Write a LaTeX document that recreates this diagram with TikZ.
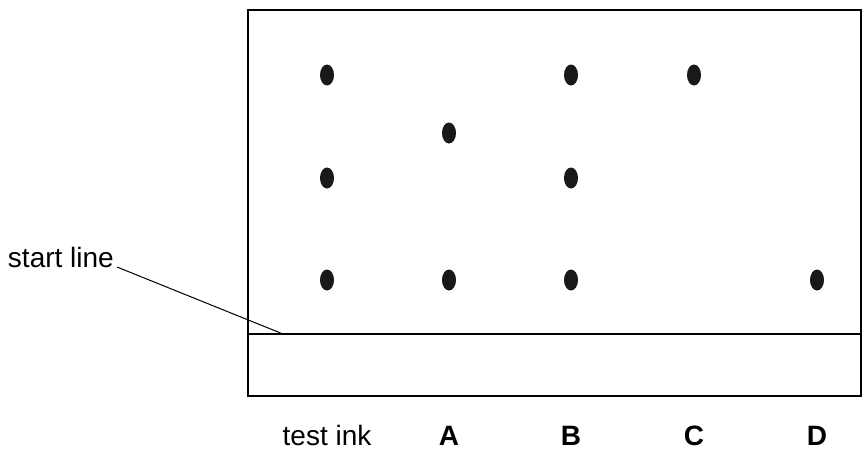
\documentclass[tikz,border=0pt]{standalone}
\usepackage{fontspec}
\setmainfont{Liberation Sans}
\usetikzlibrary{shapes.geometric}

\begin{document}
\begin{tikzpicture}[x=1pt,y=-1pt,
            paper/.style={draw, line width=2pt},
            spot/.style={ellipse, fill=black!90, inner sep=0pt, minimum width=14pt, minimum height=21pt},
            lane label/.style={font=\fontsize{28}{32}\selectfont, anchor=base, inner sep=0pt},
            every node/.style={align=center}
    ]
        \useasboundingbox (0,0) rectangle (864,450);

        % Paper and start line
        \draw[paper] (248,10) rectangle (861,396);
        \coordinate (sl_left) at (248,334);
        \coordinate (sl_right) at (861,334);
        \draw[paper] (sl_left) -- (sl_right);

        % Spots: test ink
        \node[spot] (ink_1) at (327,75) {};
        \node[spot] (ink_2) at (327,178) {};
        \node[spot] (ink_3) at (327,280) {};

        % Spots: A
        \node[spot] (a_1) at (449,133) {};
        \node[spot] (a_2) at (449,280) {};

        % Spots: B
        \node[spot] (b_1) at (571,75) {};
        \node[spot] (b_2) at (571,178) {};
        \node[spot] (b_3) at (571,280) {};

        % Spots: C and D
        \node[spot] (c_1) at (694,75) {};
        \node[spot] (d_1) at (817,280) {};

        % Labels
        \node[lane label] (lab_ink) at (327,445) {test ink};
        \node[lane label] (lab_a) at (449,445) {\bfseries A};
        \node[lane label] (lab_b) at (571,445) {\bfseries B};
        \node[lane label] (lab_c) at (694,445) {\bfseries C};
        \node[lane label] (lab_d) at (817,445) {\bfseries D};

        % Start line label
        \node[lane label, anchor=base east] (lab_start) at (114,267) {start line};
        \coordinate (start_pt) at (283,334);
        \draw[line width=1pt] (lab_start.base east) ++(3,0) coordinate (lead) -- (start_pt);

    \end{tikzpicture}
\end{document}
